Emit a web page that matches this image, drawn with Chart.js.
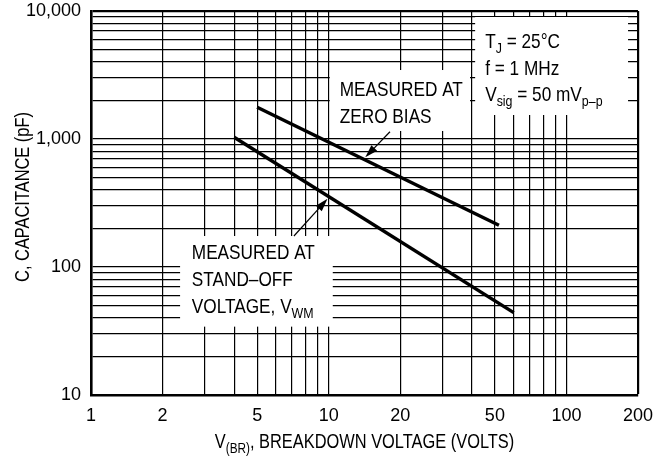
<!DOCTYPE html>
<html>
<head>
<meta charset="utf-8">
<script src="https://cdn.jsdelivr.net/npm/chart.js@4.4.1/dist/chart.umd.min.js"></script>
<style>
  html, body { margin: 0; padding: 0; background: #fff; }
  canvas { display: block; }
</style>
</head>
<body>
<canvas id="chart" width="666" height="463"></canvas>
<script>
// curves (volts, pF)
const zeroBiasVolts = [5, 52];
const zeroBiasPf = [1770, 212];
const standOffVolts = [4, 60];
const standOffPf = [1030, 44];

// labelled ticks
const xTickLabels = [1, 2, 5, 10, 20, 50, 100, 200];
const yTickLabels = [10, 100, 1000, 10000];

const FONT = "'Liberation Sans', Arial, sans-serif";
const NARROW = 0.82; // squeeze regular sans into a narrow look

// 1..9 per decade, like log paper
function decadeGrid(min, max) {
  let vals = [];
  for (let d = min; d < max; d *= 10) {
    for (let m = 1; m < 10; m++) {
      if (m * d <= max) vals.push(m * d);
    }
  }
  if (!vals.includes(max)) vals.push(max);
  return vals;
}
const xGrid = decadeGrid(1, 200);
const yGrid = decadeGrid(10, 10000);

function toPoints(xs, ys) {
  return xs.map((v, i) => ({ x: v, y: ys[i] }));
}

// text boxes, anchored in data space; text offsets in px inside the box
const notes = [
  { x1: 41.3, x2: 181.6, yTop: 8976, yBot: 1540, padX: 10, base: 31, gap: 26.7,
    lines: [[['T'], ['J', 1], [' = 25\u00B0C']], [['f = 1 MHz']], [['V'], ['sig', 1], [' = 50 mV'], ['p\u2013p', 1]]] },
  { x1: 10.1, x2: 39.3, yTop: 3459, yBot: 1155, padX: 10, base: 26, gap: 27.3,
    lines: [[['MEASURED AT']], [['ZERO BIAS']]] },
  { x1: 2.37, x2: 10.4, yTop: 174.6, yBot: 34.2, padX: 11.7, base: 23.3, gap: 26.7,
    lines: [[['MEASURED AT']], [['STAND\u2013OFF']], [['VOLTAGE, V'], ['WM', 1]]] }
];

// arrows: tail in data space, tip at a fraction along a dataset line
const arrows = [
  { x: 18.1, y: 1140, dataset: 0, t: 0.44 },
  { x: 7.14, y: 174.6, dataset: 1, t: 0.34 }
];

function richWidth(ctx, parts, size) {
  let w = 0;
  parts.forEach(([t, sub]) => {
    ctx.font = (sub ? size * 0.72 : size) + 'px ' + FONT;
    w += ctx.measureText(t).width;
  });
  return w * NARROW;
}

function drawRich(ctx, x, y, parts, size) {
  ctx.save();
  ctx.translate(x, y);
  ctx.scale(NARROW, 1);
  let cx = 0;
  parts.forEach(([t, sub]) => {
    ctx.font = (sub ? size * 0.72 : size) + 'px ' + FONT;
    ctx.fillText(t, cx, sub ? size * 0.24 : 0);
    cx += ctx.measureText(t).width;
  });
  ctx.restore();
}

function drawArrow(ctx, x0, y0, x1, y1) {
  const ang = Math.atan2(y1 - y0, x1 - x0);
  const len = 13, half = 4;
  const c = Math.cos(ang), s = Math.sin(ang);
  ctx.lineWidth = 1.2;
  ctx.beginPath();
  ctx.moveTo(x0, y0);
  ctx.lineTo(x1 - c * len * 0.8, y1 - s * len * 0.8);
  ctx.stroke();
  ctx.beginPath();
  ctx.moveTo(x1, y1);
  ctx.lineTo(x1 - len * c + half * s, y1 - len * s - half * c);
  ctx.lineTo(x1 - len * c - half * s, y1 - len * s + half * c);
  ctx.closePath();
  ctx.fill();
}

const notesPlugin = {
  id: 'notes',
  beforeDatasetsDraw(chart) {
    // blank the grid under the text boxes
    const { ctx, scales: { x, y } } = chart;
    ctx.save();
    ctx.fillStyle = '#fff';
    notes.forEach(n => {
      const l = x.getPixelForValue(n.x1), r = x.getPixelForValue(n.x2);
      const t = y.getPixelForValue(n.yTop), b = y.getPixelForValue(n.yBot);
      ctx.fillRect(l, t, r - l, b - t);
    });
    ctx.restore();
  },
  afterDatasetsDraw(chart) {
    const { ctx, scales: { x, y } } = chart;
    ctx.save();
    ctx.fillStyle = '#000';
    ctx.strokeStyle = '#000';
    ctx.textBaseline = 'alphabetic';
    ctx.textAlign = 'left';
    notes.forEach(n => {
      const l = x.getPixelForValue(n.x1);
      const t = y.getPixelForValue(n.yTop);
      n.lines.forEach((parts, i) => {
        drawRich(ctx, l + n.padX, t + n.base + i * n.gap, parts, 21);
      });
    });
    arrows.forEach(a => {
      const pts = chart.getDatasetMeta(a.dataset).data;
      const x0 = x.getPixelForValue(a.x), y0 = y.getPixelForValue(a.y);
      let tx = pts[0].x + a.t * (pts[1].x - pts[0].x);
      let ty = pts[0].y + a.t * (pts[1].y - pts[0].y);
      // stop at the edge of the thick line
      const d = Math.hypot(x0 - tx, y0 - ty);
      tx += (x0 - tx) / d * 2.5;
      ty += (y0 - ty) / d * 2.5;
      drawArrow(ctx, x0, y0, tx, ty);
    });
    ctx.restore();
  },
  afterDraw(chart) {
    // axis titles with subscripts
    const { ctx, chartArea } = chart;
    ctx.save();
    ctx.fillStyle = '#000';
    ctx.textBaseline = 'alphabetic';
    ctx.textAlign = 'left';
    const xt = [['V'], ['(BR)', 1], [', BREAKDOWN VOLTAGE (VOLTS)']];
    const w = richWidth(ctx, xt, 20);
    drawRich(ctx, (chartArea.left + chartArea.right) / 2 - w / 2, 448, xt, 20);

    const yt = [['C, CAPACITANCE (pF)']];
    const wy = richWidth(ctx, yt, 20);
    ctx.translate(29, 197);
    ctx.rotate(-Math.PI / 2);
    drawRich(ctx, -wy / 2, 0, yt, 20);
    ctx.restore();
  }
};

const ctx = document.getElementById('chart').getContext('2d');

const chart = new Chart(ctx, {
  type: 'line',
  data: {
    datasets: [
      {
        label: 'Measured at zero bias',
        data: toPoints(zeroBiasVolts, zeroBiasPf),
        borderColor: '#000',
        borderWidth: 3.5,
        pointRadius: 0,
        fill: false,
        tension: 0
      },
      {
        label: 'Measured at stand-off voltage',
        data: toPoints(standOffVolts, standOffPf),
        borderColor: '#000',
        borderWidth: 3.5,
        pointRadius: 0,
        fill: false,
        tension: 0
      }
    ]
  },
  options: {
    responsive: false,
    animation: false,
    layout: { padding: { top: 11, right: 28, left: 0, bottom: 0 } },
    plugins: {
      legend: { display: false },
      tooltip: { enabled: false }
    },
    scales: {
      x: {
        type: 'logarithmic',
        min: 1,
        max: 200,
        afterBuildTicks: s => { s.ticks = xGrid.map(v => ({ value: v })); },
        afterFit: s => { s.height = 68; s.paddingLeft = 0; s.paddingRight = 0; },
        grid: {
          color: '#000',
          lineWidth: c => (c.tick && c.tick.value === 200) ? 2.2 : 1.2,
          drawTicks: false
        },
        border: { color: '#000', width: 2.6 },
        ticks: {
          autoSkip: false,
          maxRotation: 0,
          padding: 10,
          color: '#000',
          font: { family: FONT, size: 18 },
          callback: v => xTickLabels.includes(v) ? String(v) : ''
        }
      },
      y: {
        type: 'logarithmic',
        min: 10,
        max: 10000,
        afterBuildTicks: s => { s.ticks = yGrid.map(v => ({ value: v })); },
        afterFit: s => { s.width = 91; s.paddingTop = 0; s.paddingBottom = 0; },
        grid: {
          color: '#000',
          lineWidth: c => (c.tick && c.tick.value === 10000) ? 2.2 : 1.2,
          drawTicks: false
        },
        border: { color: '#000', width: 2.6 },
        ticks: {
          autoSkip: false,
          padding: 10,
          color: '#000',
          font: { family: FONT, size: 18 },
          callback: v => yTickLabels.includes(v) ? v.toLocaleString('en-US') : ''
        }
      }
    }
  },
  plugins: [notesPlugin]
});
</script>
</body>
</html>
